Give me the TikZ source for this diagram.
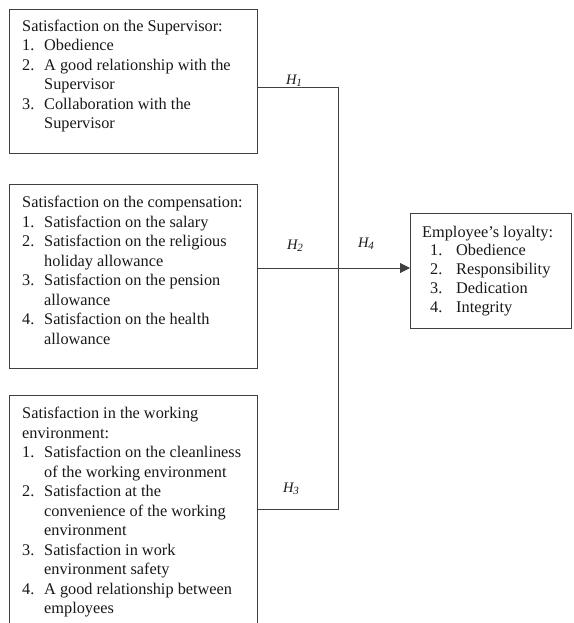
\documentclass[tikz,border=0pt]{standalone}
\usepackage{fontspec}
\setmainfont{Liberation Serif}
\usetikzlibrary{arrows.meta}
\newcommand{\itm}[2]{\makebox[22pt][l]{#1}#2}
\newcommand{\eitm}[2]{\hspace{8pt}\makebox[26pt][l]{#1}#2}
\newcommand{\hyp}[1]{H\raisebox{-2.5pt}{\fontsize{11}{12}\selectfont #1}}
\begin{document}
\begin{tikzpicture}[x=1pt,y=-1pt,
  box/.style={draw=black!75, line width=1pt, inner sep=0pt, outer sep=0pt},
  txt/.style={anchor=base west, inner sep=0pt, text=black!90, font=\fontsize{16.3}{19.5}\selectfont},
  etxt/.style={anchor=base west, inner sep=0pt, text=black!90, font=\fontsize{16.3}{18.75}\selectfont},
  hlab/.style={inner sep=0pt, font=\fontsize{14.5}{16}\selectfont\itshape, text=black!90},
  conn/.style={draw=black!75, line width=1pt}]
\useasboundingbox (0,0) rectangle (573,623);
\fill[white] (0,0) rectangle (573,623);
\clip (0,0) rectangle (573,623);
% boxes
\node[box, minimum width=248pt, minimum height=143pt] (b1) at (133,81.5) {};
\node[box, minimum width=248pt, minimum height=184pt] (b2) at (133,276) {};
\node[box, minimum width=248pt, minimum height=245pt] (b3) at (133,517.5) {};
\node[box, minimum width=161pt, minimum height=115pt] (b4) at (490.5,270.5) {};
% texts
\node[txt] (t1) at (22,31.5) {\begin{tabular}[t]{@{}l@{}}
Satisfaction on the Supervisor:\\
\itm{1.}{Obedience}\\
\itm{2.}{A good relationship with the}\\
\itm{}{Supervisor}\\
\itm{3.}{Collaboration with the}\\
\itm{}{Supervisor}
\end{tabular}};
\node[txt] (t2) at (22,207.5) {\begin{tabular}[t]{@{}l@{}}
Satisfaction on the compensation:\\
\itm{1.}{Satisfaction on the salary}\\
\itm{2.}{Satisfaction on the religious}\\
\itm{}{holiday allowance}\\
\itm{3.}{Satisfaction on the pension}\\
\itm{}{allowance}\\
\itm{4.}{Satisfaction on the health}\\
\itm{}{allowance}
\end{tabular}};
\node[txt] (t3) at (22,418.5) {\begin{tabular}[t]{@{}l@{}}
Satisfaction in the working\\
environment:\\
\itm{1.}{Satisfaction on the cleanliness}\\
\itm{}{of the working environment}\\
\itm{2.}{Satisfaction at the}\\
\itm{}{convenience of the working}\\
\itm{}{environment}\\
\itm{3.}{Satisfaction in work}\\
\itm{}{environment safety}\\
\itm{4.}{A good relationship between}\\
\itm{}{employees}
\end{tabular}};
\node[etxt] (t4) at (422,237) {\begin{tabular}[t]{@{}l@{}}
Employee’s loyalty:\\
\eitm{1.}{Obedience}\\
\eitm{2.}{Responsibility}\\
\eitm{3.}{Dedication}\\
\eitm{4.}{Integrity}
\end{tabular}};
% junctions
\coordinate (j1) at (338,88);
\coordinate (j2) at (338,268);
\coordinate (j3) at (338,509);
% connectors
\draw[conn] (b1.east |- j1) -- (j1) -- (j3) -- (b3.east |- j3);
\draw[conn, -{Triangle[length=10pt,width=10pt]}] (b2.east |- j2) -- (b4.west |- j2);
% labels
\node[hlab] (h1) at (294,81) {\hyp{1}};
\node[hlab] (h2) at (295,246) {\hyp{2}};
\node[hlab] (h4) at (366,244) {\hyp{4}};
\node[hlab] (h3) at (291,489) {\hyp{3}};
\end{tikzpicture}
\end{document}
